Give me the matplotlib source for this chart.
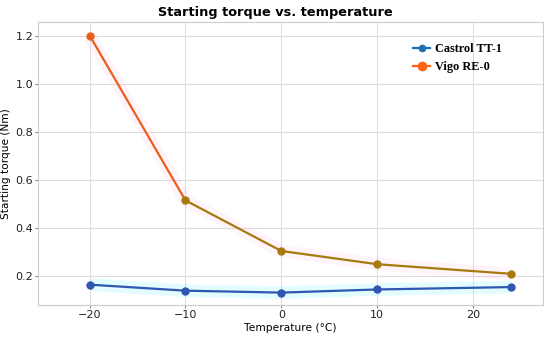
import numpy as np
import matplotlib.pyplot as plt
from matplotlib.lines import Line2D

# data
temps = [-20, -10, 0, 10, 24]
castrol = [0.165, 0.140, 0.132, 0.145, 0.155]
vigo = [1.200, 0.515, 0.305, 0.250, 0.210]

blue = "#2f56b0"
olive = "#a67b0c"
orange = "#e8601a"

fig, ax = plt.subplots(figsize=(5.5, 3.38), dpi=100)

# faint glow bands behind the lines
ax.plot(temps, castrol, color="#9ff8ff", lw=9, alpha=0.3, solid_capstyle="butt", zorder=1)
ax.plot(temps, vigo, color="#ffb0ee", lw=9, alpha=0.15, solid_capstyle="butt", zorder=1)

# Castrol
ax.plot(temps, castrol, color=blue, lw=1.6, marker="o", ms=5, zorder=3)

# Vigo: first segment orange, rest olive
ax.plot(temps[:2], vigo[:2], color=orange, lw=1.6, zorder=3)
ax.plot(temps[1:], vigo[1:], color=olive, lw=1.6, marker="o", ms=5, zorder=3)
ax.plot(temps[:1], vigo[:1], color=orange, marker="o", ms=5, lw=0, zorder=4)

ax.set_xlim(-25.4, 27.3)
ax.set_ylim(0.081, 1.258)
ax.set_xticks([-20, -10, 0, 10, 20])
ax.set_yticks([0.2, 0.4, 0.6, 0.8, 1.0, 1.2])
ax.grid(True, color="#dddddd", lw=0.8)
ax.set_axisbelow(True)
for s in ax.spines.values():
    s.set_color("#cccccc")
ax.tick_params(colors="#222222", labelsize=8, length=2, color="#888888", pad=1.5)

fig.text(0.5, 0.952, "Starting torque vs. temperature", fontsize=9.3, fontweight="bold",
         ha="center", va="baseline")
ax.set_xlabel("Temperature (°C)", fontsize=7.7, labelpad=2)
ax.set_ylabel("Starting torque (Nm)", fontsize=7.6, labelpad=3)

handles = [
    Line2D([], [], color="#1f6fb4", lw=1.6, marker="o", ms=4.5, label="Castrol TT-1"),
    Line2D([], [], color="#ff6414", lw=1.6, marker="o", ms=6, label="Vigo RE-0"),
]
ax.legend(handles=handles, loc="upper left", frameon=False, bbox_to_anchor=(0.743, 0.925),
          prop={"family": "Liberation Serif", "weight": "bold", "size": 8.8},
          handlelength=1.4, handletextpad=0.4, labelspacing=0.5,
          borderpad=0, borderaxespad=0)

fig.subplots_adjust(left=0.069, right=0.987, top=0.936, bottom=0.098)
fig.savefig("out.png", dpi=100)
